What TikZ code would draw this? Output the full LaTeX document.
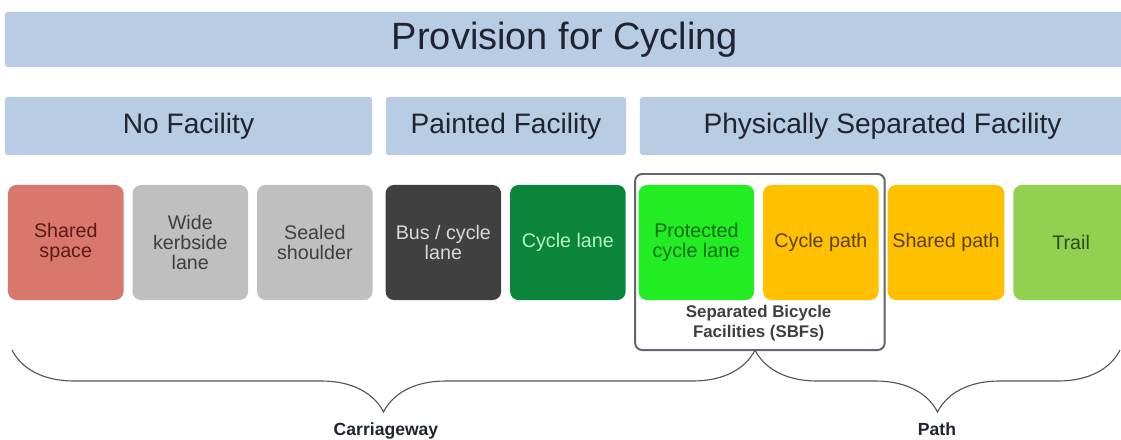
\documentclass[tikz,border=0pt]{standalone}
\usepackage{fontspec}
\setmainfont{Liberation Sans}
\usetikzlibrary{positioning,calc,decorations.pathreplacing}

\definecolor{hdrblue}{HTML}{B8CCE4}
\definecolor{titleink}{HTML}{1F2430}
\definecolor{salmon}{HTML}{D8776C}
\definecolor{salmonink}{HTML}{5C1A15}
\definecolor{lightgrey}{HTML}{BFBFBF}
\definecolor{greyink}{HTML}{3F3F3F}
\definecolor{darkgrey}{HTML}{404040}
\definecolor{darkgreyink}{HTML}{D9D9D9}
\definecolor{lanegreen}{HTML}{0B853B}
\definecolor{lanegreenink}{HTML}{B5F5C0}
\definecolor{brightgreen}{HTML}{22EC22}
\definecolor{brightgreenink}{HTML}{0A6B1A}
\definecolor{amber}{HTML}{FFC000}
\definecolor{amberink}{HTML}{5A4000}
\definecolor{trailgreen}{HTML}{92D050}
\definecolor{trailink}{HTML}{2C4A1A}
\definecolor{frameink}{HTML}{5F6670}
\definecolor{braceink}{HTML}{555555}

\begin{document}
\begin{tikzpicture}[x=0.025cm,y=-0.025cm,node distance=0.225cm,
      titlebar/.style={fill=hdrblue,rounded corners=2pt,minimum width=28cm,minimum height=1.375cm,
        text=titleink,font=\fontsize{27}{30}\selectfont},
      hdr/.style={fill=hdrblue,rounded corners=2pt,minimum height=1.45cm,
        text=titleink,font=\fontsize{20}{24}\selectfont},
      cell/.style={rounded corners=6pt,outer sep=0pt,minimum width=2.8875cm,minimum height=2.875cm,
        align=center,font=\fontsize{14}{14}\selectfont},
      sbftext/.style={align=center,text=greyink,font=\fontsize{12}{14}\selectfont\bfseries},
      sbfframe/.style={draw=frameink,line width=1.4pt,rounded corners=5pt},
      curly/.style={draw=braceink,line width=0.8pt,decorate,
        decoration={brace,mirror,amplitude=1.55cm}},
      bracelabel/.style={anchor=base,text=titleink,font=\fontsize{12.5}{14}\selectfont\bfseries}]
  \useasboundingbox[fill=white] (0,0) rectangle (1121,440);

  \node[titlebar] (title) at (565,39.5) {Provision for Cycling};

  \node[hdr,minimum width=9.175cm] (nofac)   at (188.5,126) {No Facility};
  \node[hdr,minimum width=6cm]     (painted) at (506,126)   {Painted Facility};
  \node[hdr,minimum width=12.125cm] (physsep) at (882.5,126) {Physically Separated Facility};

  \node[cell,fill=salmon,text=salmonink] (sharedspace) at (65.75,242.5) {Shared\\space};
  \node[cell,fill=lightgrey,text=greyink,right=of sharedspace] (widelane) {Wide\\kerbside\\lane};
  \node[cell,fill=lightgrey,text=greyink,right=of widelane] (shoulder) {Sealed\\shoulder};
  \node[cell,fill=darkgrey,text=darkgreyink,right=0.325cm of shoulder] (buslane) {Bus / cycle\\lane};
  \node[cell,fill=lanegreen,text=lanegreenink,right=of buslane] (cyclelane) {Cycle lane};
  \node[cell,fill=brightgreen,text=brightgreenink,right=0.325cm of cyclelane] (protected) {Protected\\cycle lane};
  \node[cell,fill=amber,text=amberink,right=of protected] (cyclepath) {Cycle path};
  \node[cell,fill=amber,text=amberink,right=of cyclepath] (sharedpath) {Shared path};
  \node[cell,fill=trailgreen,text=trailink,right=of sharedpath] (trail) {Trail};

  \node[sbftext] (sbf) at ($(protected.south)!0.5!(cyclepath.south)+(0,23)$) {Separated Bicycle\\Facilities (SBFs)};
  \draw[sbfframe] ($(protected.north west)+(-3.5,-11)$) rectangle ($(cyclepath.south east)+(6,50)$);

  \coordinate (cwleft) at (12,350);
  \coordinate (split) at (755,350);
  \coordinate (pathright) at (1120,350);
  \draw[curly] (cwleft) -- (split);
  \draw[curly] (split) -- (pathright);
  \node[bracelabel] (carriageway) at (386,435) {Carriageway};
  \node[bracelabel] (path) at (937,435) {Path};
\end{tikzpicture}
\end{document}
